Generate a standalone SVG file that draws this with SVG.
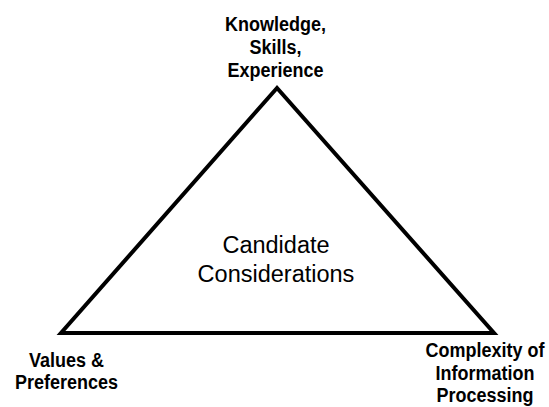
<svg xmlns="http://www.w3.org/2000/svg" width="549" height="407" viewBox="0 0 549 407">
  <style>
    .label { font-family: "Liberation Sans", Arial, sans-serif; font-weight: bold; font-size: 18px; fill: #000; text-anchor: middle; }
    .center { font-family: "Liberation Sans", Arial, sans-serif; font-size: 23.5px; fill: #000; text-anchor: middle; }
    .edge { fill: none; stroke: #000; stroke-width: 4; stroke-linejoin: miter; }
  </style>
  <rect width="549" height="407" fill="#fff"/>
  <g id="connectors">
    <polygon class="edge" points="277,88 61,333 494,333"/>
  </g>
  <!-- bold corner labels are drawn slightly taller than wide -->
  <g id="node-knowledge">
    <text class="label" transform="translate(275.5,31) scale(1,1.12)">Knowledge,</text>
    <text class="label" transform="translate(275.5,54) scale(1,1.12)">Skills,</text>
    <text class="label" transform="translate(275.5,76.5) scale(1,1.12)">Experience</text>
  </g>
  <g id="node-values">
    <text class="label" transform="translate(66.5,366.5) scale(1,1.12)">Values &amp;</text>
    <text class="label" transform="translate(66.5,389) scale(1,1.12)">Preferences</text>
  </g>
  <g id="node-complexity">
    <text class="label" transform="translate(485,356.5) scale(1,1.12)">Complexity of</text>
    <text class="label" transform="translate(485,379.5) scale(1,1.12)">Information</text>
    <text class="label" transform="translate(485,402) scale(1,1.12)">Processing</text>
  </g>
  <g id="node-candidate">
    <text class="center" x="276" y="253">Candidate</text>
    <text class="center" x="276" y="282">Considerations</text>
  </g>
</svg>
